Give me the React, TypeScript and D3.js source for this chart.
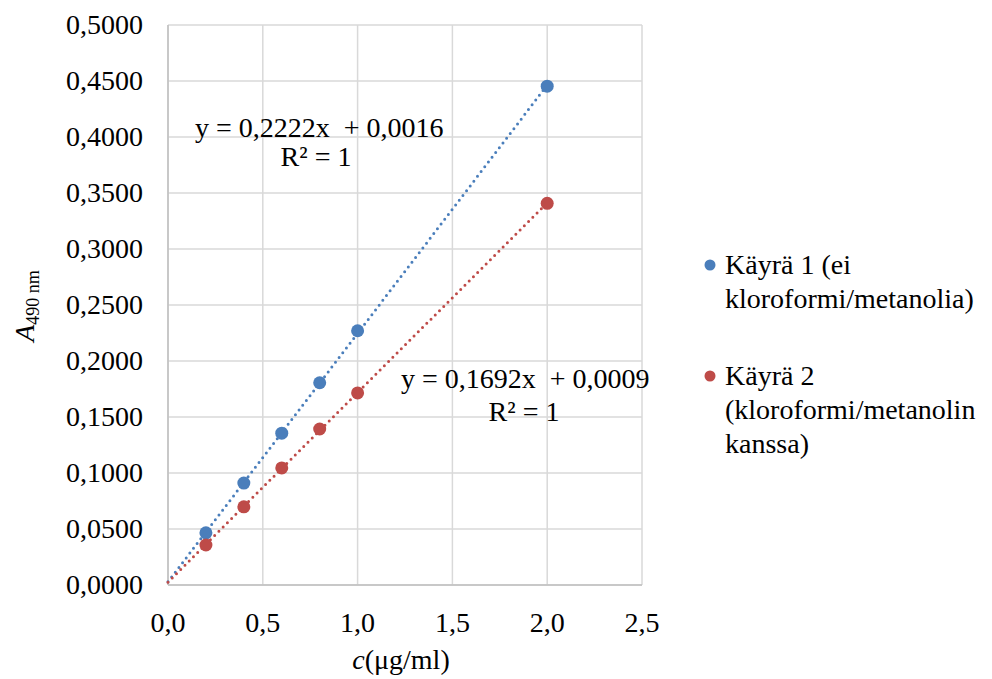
import React from "react";
import * as d3 from "d3";

const concentrations = [0.2, 0.4, 0.6, 0.8, 1.0, 2.0];
const curve1 = [0.0466, 0.091, 0.1356, 0.1806, 0.227, 0.4454];
const curve2 = [0.0357, 0.0698, 0.1045, 0.1393, 0.1715, 0.3408];
const seriesNames = [
  ["Käyrä 1 (ei", "kloroformi/metanolia)"],
  ["Käyrä 2", "(kloroformi/metanolin", "kanssa)"],
];
const equations = [
  ["y = 0,2222x  + 0,0016", "R² = 1"],
  ["y = 0,1692x  + 0,0009", "R² = 1"],
];
const xTicks = [0, 0.5, 1.0, 1.5, 2.0, 2.5];
const yTicks = d3.range(0, 0.5001, 0.05);
const colors = ["#4a7ebb", "#be4b48"];

const fmtX = (v: number) => d3.format(".1f")(v).replace(".", ",");
const fmtY = (v: number) => d3.format(".4f")(v).replace(".", ",");

function fit(xs: number[], ys: number[]) {
  const mx = d3.mean(xs)!;
  const my = d3.mean(ys)!;
  let num = 0;
  let den = 0;
  xs.forEach((x, i) => {
    num += (x - mx) * (ys[i] - my);
    den += (x - mx) * (x - mx);
  });
  const slope = num / den;
  return { slope, intercept: my - slope * mx };
}

export default function App() {
  const left = 168;
  const right = 642;
  const top = 25;
  const bottom = 585;

  const x = d3.scaleLinear().domain([0, 2.5]).range([left, right]);
  const y = d3.scaleLinear().domain([0, 0.5]).range([bottom, top]);

  const series = [curve1, curve2].map((vals, i) => {
    const f = fit(concentrations, vals);
    return { vals, color: colors[i], fit: f };
  });

  const fs = 28;
  const ff = "Liberation Serif";
  const ts: React.CSSProperties = { fontFamily: "'Times New Roman'" };
  const grid = "#d9d9d9";

  return (
    <svg width={984} height={671} style={{ overflow: "visible", display: "block" }}>
      <g transform="translate(-8,-8)" fontFamily={ff}>
        {/* grid */}
        {yTicks.map((t) => (
          <line key={"gy" + t} x1={left} x2={right} y1={y(t)} y2={y(t)} stroke={grid} strokeWidth={1.5} />
        ))}
        {xTicks.map((t) => (
          <line key={"gx" + t} x1={x(t)} x2={x(t)} y1={top} y2={bottom} stroke={grid} strokeWidth={1.5} />
        ))}
        <line x1={left} x2={left} y1={top} y2={bottom} stroke="#bfbfbf" strokeWidth={1.5} />
        <line x1={left} x2={right} y1={bottom} y2={bottom} stroke="#bfbfbf" strokeWidth={1.5} />

        {/* tick labels */}
        {yTicks.map((t) => (
          <text key={"ty" + t} x={143} y={y(t) + 9} textAnchor="end" fontSize={fs} style={ts}>
            {fmtY(t)}
          </text>
        ))}
        {xTicks.map((t) => (
          <text key={"tx" + t} x={x(t)} y={632} textAnchor="middle" fontSize={fs} style={ts}>
            {fmtX(t)}
          </text>
        ))}

        {/* axis titles */}
        <text x={401} y={669} textAnchor="middle" fontSize={fs} style={ts}>
          <tspan fontStyle="italic">c</tspan>(μg/ml)
        </text>
        <text transform="translate(34,306) rotate(-90)" textAnchor="middle" fontSize={fs} style={ts}>
          <tspan fontStyle="italic">A</tspan>
          <tspan fontSize={18} dy={5}>490 nm</tspan>
        </text>

        {/* trendlines */}
        {series.map((s, i) => {
          const xs = [0, d3.max(concentrations)!];
          const pts = xs.map((v) => [x(v), y(s.fit.intercept + s.fit.slope * v)] as [number, number]);
          return (
            <path
              key={"tl" + i}
              d={d3.line()(pts) || ""}
              fill="none"
              stroke={s.color}
              strokeWidth={3}
              strokeLinecap="round"
              strokeDasharray="0 6"
            />
          );
        })}

        {/* points */}
        {series.map((s, i) =>
          s.vals.map((v, j) => (
            <circle key={"p" + i + j} cx={x(concentrations[j])} cy={y(v)} r={6.5} fill={s.color} />
          ))
        )}

        {/* equations */}
        <text fontSize={fs} style={ts} xmlSpace="preserve" x={195} y={137}>
          {equations[0][0]}
        </text>
        <text fontSize={fs} style={ts} x={316} y={166} textAnchor="middle">
          {equations[0][1]}
        </text>
        <text fontSize={fs} style={ts} xmlSpace="preserve" x={401} y={388}>
          {equations[1][0]}
        </text>
        <text fontSize={fs} style={ts} x={524} y={421} textAnchor="middle">
          {equations[1][1]}
        </text>

        {/* legend */}
        {seriesNames.map((lines, i) => {
          const y0 = i === 0 ? 265 : 376;
          return (
            <g key={"lg" + i}>
              <circle cx={710} cy={y0} r={5.5} fill={colors[i]} />
              {lines.map((l, k) => (
                <text key={k} x={725} y={y0 + 9 + k * 34} fontSize={fs} style={ts}>
                  {l}
                </text>
              ))}
            </g>
          );
        })}
      </g>
    </svg>
  );
}
